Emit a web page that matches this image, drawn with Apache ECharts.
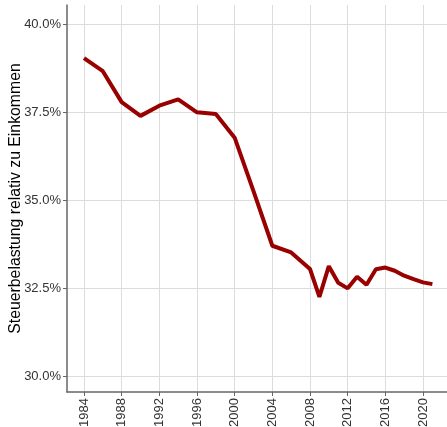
<!DOCTYPE html>
<html>
<head>
<meta charset="utf-8">
<script src="https://cdn.jsdelivr.net/npm/echarts@6/dist/echarts.min.js"></script>
<style>
  html, body { margin: 0; padding: 0; background: #fff; }
  #chart { width: 447px; height: 427px; }
</style>
</head>
<body>
<div id="chart"></div>
<script>
// Jahre und Steuerbelastung (%)
var years = [1984, 1986, 1988, 1990, 1992, 1994, 1996, 1998, 2000, 2002, 2004, 2006,
             2008, 2009, 2010, 2011, 2012, 2013, 2014, 2015, 2016, 2017, 2018, 2019, 2020, 2021];
var burden = [39.03, 38.66, 37.78, 37.39, 37.68, 37.86, 37.49, 37.44, 36.77, 35.25, 33.70, 33.51,
              33.04, 32.25, 33.12, 32.65, 32.49, 32.82, 32.59, 33.03, 33.08, 32.99, 32.85, 32.75, 32.66, 32.61];
var xTicks = [1984, 1988, 1992, 1996, 2000, 2004, 2008, 2012, 2016, 2020];
var yTicks = [30, 32.5, 35, 37.5, 40];

var points = years.map(function (y, i) { return [y, burden[i]]; });

var option = {
    animation: false,
    grid: { left: 67, right: 0, top: 5, bottom: 35, outerBoundsMode: 'none', containLabel: false },
    xAxis: {
        type: 'value',
        min: 1982.195,
        max: 2022.55,
        axisLine: { lineStyle: { color: '#666', width: 1.5 } },
        axisTick: { show: true, length: 4, customValues: xTicks, lineStyle: { color: '#666' } },
        axisLabel: {
            customValues: xTicks,
            rotate: 90,
            margin: 6,
            color: '#333',
            fontSize: 13,
            fontFamily: 'Liberation Sans',
            formatter: function (v) { return String(v); }
        },
        splitLine: { show: true, lineStyle: { color: '#dcdcdc', width: 1 } }
    },
    yAxis: {
        type: 'value',
        min: 29.545,
        max: 40.54,
        name: 'Steuerbelastung relativ zu Einkommen',
        nameLocation: 'middle',
        nameGap: 43,
        nameMoveOverlap: false,
        nameTextStyle: { color: '#000', fontSize: 15.8, fontFamily: 'Liberation Sans' },
        axisLine: { show: true, lineStyle: { color: '#666', width: 1.5 } },
        axisTick: { show: true, length: 4, customValues: yTicks, lineStyle: { color: '#666' } },
        axisLabel: {
            customValues: yTicks,
            margin: 6,
            color: '#333',
            fontSize: 13,
            fontFamily: 'Liberation Sans',
            formatter: function (v) { return v.toFixed(1) + '%'; }
        },
        splitLine: { show: true, lineStyle: { color: '#dcdcdc', width: 1 } }
    },
    series: [{
        type: 'line',
        data: points,
        symbol: 'none',
        lineStyle: { color: '#990000', width: 4 }
    }]
};

var myChart = echarts.init(document.getElementById('chart'));
myChart.setOption(option);
</script>
</body>
</html>
